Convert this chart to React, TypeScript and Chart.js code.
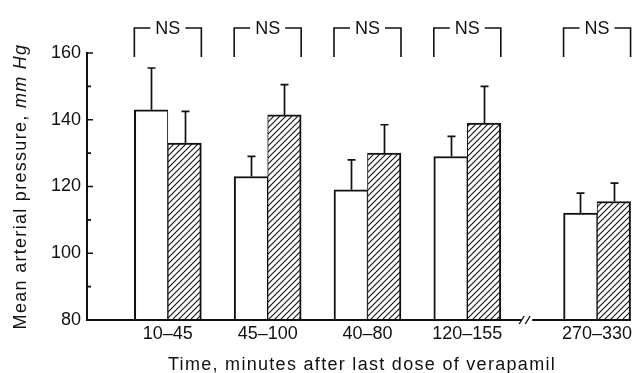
import React, { useEffect, useRef } from "react";
import { Chart, registerables } from "chart.js";

Chart.register(...registerables);

// ---- data ----
const categories = ["10–45", "45–100", "40–80", "120–155", "270–330"];
const groupPositions = [0, 1, 2, 3, 4.3];
const controlMeans = [143, 123, 119, 129, 112];
const controlErrors = [12.5, 6, 9, 6, 6];
const verapamilMeans = [133, 141.5, 130, 139, 115.5];
const verapamilErrors = [9.5, 9, 8.5, 11, 5.5];
const significance = ["NS", "NS", "NS", "NS", "NS"];
const yMajorTicks = [80, 100, 120, 140, 160];
const yMinorTicks = [90, 110, 130, 150];
const axisBreakAt = 3.59;
const xTitle = "Time, minutes after last dose of verapamil";
const yTitleMain = "Mean arterial pressure, ";
const yTitleUnit = "mm Hg";

const FONT = "'Liberation Sans', Arial, Helvetica, sans-serif";
const BAR_W = 33.5;

function makeHatch(): CanvasPattern | string {
  const size = 6;
  const c = document.createElement("canvas");
  c.width = size;
  c.height = size;
  const g = c.getContext("2d");
  if (!g) return "#fff";
  g.fillStyle = "#fff";
  g.fillRect(0, 0, size, size);
  g.strokeStyle = "#111";
  g.lineWidth = 1.1;
  g.beginPath();
  g.moveTo(0, size);
  g.lineTo(size, 0);
  g.moveTo(-1, 1);
  g.lineTo(1, -1);
  g.moveTo(size - 1, size + 1);
  g.lineTo(size + 1, size - 1);
  g.stroke();
  const p = g.createPattern(c, "repeat");
  return p || "#fff";
}

const overlayPlugin = {
  id: "overlay",
  afterDatasetsDraw(chart: any) {
    const ctx: CanvasRenderingContext2D = chart.ctx;
    const { left, right, top, bottom } = chart.chartArea;
    const xs = chart.scales.x;
    const ys = chart.scales.y;
    ctx.save();
    ctx.strokeStyle = "#111";
    ctx.lineCap = "butt";

    // error bars (upper only)
    const sets = [
      { means: controlMeans, errs: controlErrors },
      { means: verapamilMeans, errs: verapamilErrors },
    ];
    sets.forEach((s, di) => {
      const meta = chart.getDatasetMeta(di);
      meta.data.forEach((el: any, i: number) => {
        const x = Math.round(el.x) + 0.5;
        const y0 = el.y;
        const y1 = ys.getPixelForValue(s.means[i] + s.errs[i]);
        ctx.lineWidth = 1.7;
        ctx.beginPath();
        ctx.moveTo(x, y0);
        ctx.lineTo(x, y1);
        ctx.moveTo(x - 4, y1);
        ctx.lineTo(x + 4, y1);
        ctx.stroke();
      });
    });

    // y tick marks (inside)
    ctx.lineWidth = 1.6;
    ctx.beginPath();
    yMajorTicks.forEach((v) => {
      const y = ys.getPixelForValue(v);
      ctx.moveTo(left, y);
      ctx.lineTo(left + 6, y);
    });
    yMinorTicks.forEach((v) => {
      const y = ys.getPixelForValue(v);
      ctx.moveTo(left, y);
      ctx.lineTo(left + 4, y);
    });
    ctx.stroke();

    // x axis with break
    const bx = xs.getPixelForValue(axisBreakAt);
    ctx.lineWidth = 2;
    ctx.beginPath();
    ctx.moveTo(left - 1, bottom);
    ctx.lineTo(bx - 5, bottom);
    ctx.moveTo(bx + 6, bottom);
    ctx.lineTo(right, bottom);
    ctx.stroke();
    ctx.lineWidth = 1.4;
    ctx.beginPath();
    [-5, 1].forEach((off) => {
      ctx.moveTo(bx + off - 2, bottom + 4);
      ctx.lineTo(bx + off + 3, bottom - 4);
    });
    ctx.stroke();

    // significance brackets
    ctx.font = `18px ${FONT}`;
    ctx.fillStyle = "#111";
    ctx.textAlign = "center";
    ctx.textBaseline = "alphabetic";
    groupPositions.forEach((v, i) => {
      const cx = xs.getPixelForValue(v);
      const L = cx - BAR_W;
      const R = cx + BAR_W;
      const yTop = top - 25;
      const yBot = top + 4;
      const w = ctx.measureText(significance[i]).width;
      const gap = w / 2 + 5;
      ctx.lineWidth = 1.6;
      ctx.beginPath();
      ctx.moveTo(L, yBot);
      ctx.lineTo(L, yTop);
      ctx.lineTo(cx - gap, yTop);
      ctx.moveTo(cx + gap, yTop);
      ctx.lineTo(R, yTop);
      ctx.lineTo(R, yBot);
      ctx.stroke();
      ctx.fillText(significance[i], cx, yTop + 6);
    });

    // axis titles
    const c: any = ctx;
    c.letterSpacing = "1.3px";
    ctx.font = `18px ${FONT}`;
    ctx.textAlign = "center";
    ctx.fillText(xTitle, (left + right) / 2 + 3, chart.height - 3);

    ctx.save();
    ctx.translate(26, (top + bottom) / 2);
    ctx.rotate(-Math.PI / 2);
    ctx.textAlign = "left";
    ctx.font = `18px ${FONT}`;
    const w1 = ctx.measureText(yTitleMain).width;
    ctx.font = `italic 18px ${FONT}`;
    const w2 = ctx.measureText(yTitleUnit).width;
    const start = -(w1 + w2) / 2;
    ctx.font = `18px ${FONT}`;
    ctx.fillText(yTitleMain, start, 0);
    ctx.font = `italic 18px ${FONT}`;
    ctx.fillText(yTitleUnit, start + w1, 0);
    ctx.restore();
    c.letterSpacing = "0px";

    ctx.restore();
  },
};

export default function App() {
  const ref = useRef<HTMLCanvasElement | null>(null);

  useEffect(() => {
    if (!ref.current) return;
    const hatch = makeHatch();
    const chart = new Chart(ref.current, {
      type: "bar",
      data: {
        datasets: [
          {
            label: "Control",
            data: groupPositions.map((x, i) => ({ x, y: controlMeans[i] })),
            backgroundColor: "#fff",
            borderColor: "#111",
            borderWidth: { top: 2, left: 2, right: 1, bottom: 0 },
            borderSkipped: false,
            barThickness: BAR_W,
          },
          {
            label: "Verapamil",
            data: groupPositions.map((x, i) => ({ x, y: verapamilMeans[i] })),
            backgroundColor: hatch as any,
            borderColor: "#111",
            borderWidth: { top: 2, left: 1, right: 2, bottom: 0 },
            borderSkipped: false,
            barThickness: BAR_W,
          },
        ],
      } as any,
      options: {
        animation: false,
        responsive: false,
        devicePixelRatio: 1,
        layout: { padding: { top: 53, right: 7, left: 0, bottom: 0 } },
        plugins: {
          legend: { display: false },
          tooltip: { enabled: false },
          title: { display: false },
        },
        scales: {
          x: {
            type: "linear",
            offset: false,
            min: -0.81,
            max: 4.64,
            grid: { display: false, drawTicks: false, offset: false },
            border: { display: false },
            afterBuildTicks: (scale: any) => {
              scale.ticks = groupPositions.map((v) => ({ value: v }));
            },
            afterFit: (scale: any) => {
              scale.height = 53;
            },
            ticks: {
              autoSkip: false,
              maxRotation: 0,
              padding: 3,
              color: "#111",
              font: { family: FONT, size: 18 },
              callback: (_v: any, index: number) => categories[index],
            },
          },
          y: {
            type: "linear",
            min: 80,
            max: 160,
            grid: { display: false, drawTicks: false },
            border: { display: true, color: "#111", width: 2 },
            afterBuildTicks: (scale: any) => {
              scale.ticks = yMajorTicks.map((v) => ({ value: v }));
            },
            afterFit: (scale: any) => {
              scale.width = 87;
            },
            ticks: {
              padding: 6,
              color: "#111",
              font: { family: FONT, size: 18 },
              callback: (v: any) => String(v),
            },
          },
        },
      } as any,
      plugins: [overlayPlugin],
    });
    return () => chart.destroy();
  }, []);

  return (
    <div style={{ position: "absolute", left: 0, top: 0, width: 638, height: 373, background: "#fff" }}>
      <canvas ref={ref} width={638} height={373} style={{ display: "block" }} />
    </div>
  );
}
